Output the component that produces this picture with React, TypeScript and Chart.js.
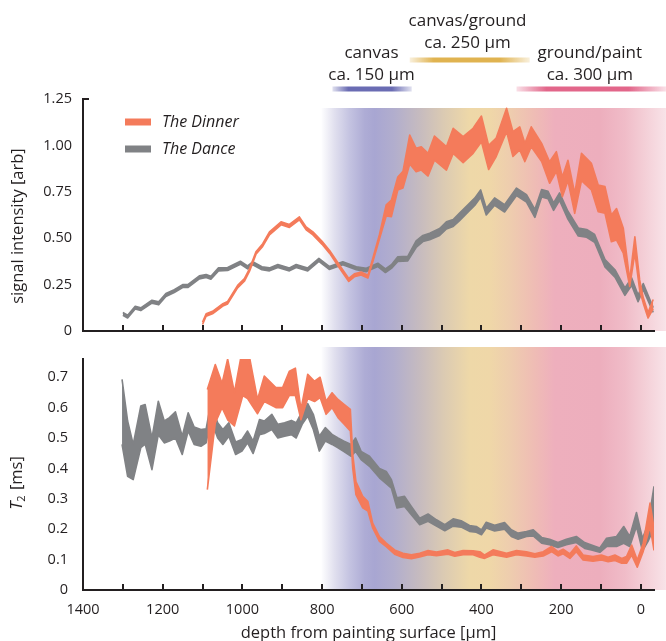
import React, { useEffect, useRef } from 'react';
import { Chart, registerables } from 'chart.js';

Chart.register(...registerables);

const FONT = '"Open Sans", "Noto Sans", sans-serif';
const INK = '#231f20';
const ORANGE = '#f47b5b';
const GRAY = '#808285';

// ---------- signal intensity: The Dinner ----------
const SIG_DINNER_DEPTH = [1100, 1091, 1075, 1049, 1037, 1012, 995, 982, 966, 949, 932, 903, 882, 857, 840, 823, 800, 781, 756, 733, 719, 702, 685, 673, 656, 639, 626, 610, 597, 580, 564, 551, 534, 518, 488, 471, 446, 421, 400, 382, 363, 337, 321, 304, 291, 275, 249, 229, 212, 197, 183, 166, 149, 124, 107, 90, 74, 61, 44, 28, 15, 3, -6, -18, -31];
const SIG_DINNER_LO = [0.035, 0.08, 0.093, 0.134, 0.146, 0.232, 0.268, 0.322, 0.413, 0.456, 0.518, 0.572, 0.558, 0.599, 0.545, 0.518, 0.467, 0.418, 0.338, 0.267, 0.292, 0.302, 0.285, 0.37, 0.495, 0.62, 0.616, 0.76, 0.77, 0.9, 0.858, 0.867, 0.835, 0.92, 0.867, 0.957, 0.907, 0.957, 1.02, 0.87, 0.94, 1.074, 0.94, 0.975, 0.913, 0.993, 0.913, 0.796, 0.86, 0.724, 0.81, 0.634, 0.81, 0.76, 0.643, 0.634, 0.481, 0.49, 0.419, 0.24, 0.42, 0.22, 0.15, 0.07, 0.12];
const SIG_DINNER_HI = [0.048, 0.093, 0.106, 0.147, 0.159, 0.246, 0.282, 0.336, 0.427, 0.47, 0.534, 0.588, 0.574, 0.615, 0.561, 0.534, 0.483, 0.434, 0.354, 0.283, 0.308, 0.318, 0.301, 0.39, 0.52, 0.68, 0.705, 0.83, 0.86, 1.056, 0.984, 0.993, 0.957, 1.05, 0.993, 1.092, 1.047, 1.092, 1.158, 1.0, 1.04, 1.2, 1.074, 1.1, 1.011, 1.1, 1.011, 0.912, 0.966, 0.83, 0.92, 0.742, 0.957, 0.903, 0.787, 0.778, 0.625, 0.66, 0.553, 0.275, 0.508, 0.275, 0.18, 0.1, 0.17];

// ---------- signal intensity: The Dance ----------
const SIG_DANCE_DEPTH = [1300, 1288, 1269, 1255, 1227, 1210, 1192, 1171, 1150, 1137, 1108, 1091, 1079, 1060, 1037, 1005, 987, 974, 951, 932, 911, 882, 865, 836, 808, 782, 748, 714, 689, 660, 641, 626, 610, 585, 564, 547, 530, 505, 488, 471, 455, 434, 417, 402, 388, 367, 342, 312, 287, 266, 249, 233, 219, 204, 183, 157, 136, 116, 90, 65, 40, 23, 7, -6, -31];
const SIG_DANCE_LO = [0.085, 0.07, 0.118, 0.11, 0.15, 0.141, 0.186, 0.207, 0.234, 0.234, 0.281, 0.288, 0.279, 0.324, 0.326, 0.36, 0.335, 0.357, 0.33, 0.324, 0.342, 0.324, 0.342, 0.324, 0.375, 0.332, 0.357, 0.33, 0.32, 0.347, 0.315, 0.337, 0.375, 0.378, 0.45, 0.482, 0.492, 0.515, 0.55, 0.563, 0.595, 0.64, 0.676, 0.72, 0.625, 0.677, 0.641, 0.73, 0.695, 0.612, 0.722, 0.713, 0.65, 0.704, 0.603, 0.512, 0.505, 0.478, 0.345, 0.29, 0.192, 0.246, 0.158, 0.222, 0.1];
const SIG_DANCE_HI = [0.1, 0.085, 0.133, 0.125, 0.166, 0.157, 0.202, 0.223, 0.25, 0.25, 0.297, 0.304, 0.295, 0.34, 0.342, 0.376, 0.351, 0.373, 0.346, 0.34, 0.358, 0.34, 0.358, 0.34, 0.391, 0.348, 0.373, 0.346, 0.338, 0.365, 0.335, 0.357, 0.4, 0.402, 0.485, 0.515, 0.527, 0.552, 0.588, 0.601, 0.635, 0.68, 0.716, 0.76, 0.662, 0.717, 0.681, 0.77, 0.735, 0.655, 0.762, 0.753, 0.69, 0.744, 0.645, 0.555, 0.547, 0.52, 0.385, 0.33, 0.232, 0.286, 0.194, 0.256, 0.126];

// ---------- T2: The Dinner ----------
const T2_DINNER_DEPTH = [1088, 1068, 1051, 1037, 1020, 999, 987, 962, 945, 916, 899, 882, 867, 853, 836, 819, 805, 790, 775, 760, 744, 729, 723, 715, 698, 685, 673, 656, 639, 618, 597, 576, 555, 534, 513, 484, 467, 446, 421, 404, 392, 371, 337, 312, 287, 266, 245, 224, 208, 195, 178, 162, 145, 120, 99, 82, 65, 48, 36, 23, 9, -6, -23, -33];
const T2_DINNER_LO = [0.33, 0.55, 0.6, 0.56, 0.54, 0.64, 0.63, 0.58, 0.62, 0.6, 0.6, 0.64, 0.64, 0.56, 0.63, 0.62, 0.633, 0.578, 0.6, 0.567, 0.545, 0.523, 0.4, 0.314, 0.27, 0.26, 0.204, 0.16, 0.143, 0.118, 0.107, 0.103, 0.109, 0.116, 0.113, 0.118, 0.111, 0.116, 0.116, 0.108, 0.104, 0.116, 0.108, 0.116, 0.112, 0.108, 0.112, 0.126, 0.112, 0.119, 0.104, 0.126, 0.099, 0.095, 0.099, 0.093, 0.097, 0.088, 0.088, 0.115, 0.075, 0.127, 0.209, 0.13];
const T2_DINNER_HI = [0.66, 0.742, 0.68, 0.76, 0.65, 0.8, 0.8, 0.627, 0.704, 0.666, 0.666, 0.72, 0.73, 0.594, 0.71, 0.687, 0.7, 0.621, 0.649, 0.627, 0.61, 0.594, 0.446, 0.357, 0.308, 0.291, 0.22, 0.176, 0.154, 0.132, 0.121, 0.116, 0.121, 0.13, 0.125, 0.132, 0.123, 0.13, 0.129, 0.126, 0.115, 0.132, 0.121, 0.13, 0.126, 0.119, 0.126, 0.143, 0.126, 0.134, 0.119, 0.145, 0.115, 0.11, 0.115, 0.108, 0.115, 0.104, 0.11, 0.148, 0.099, 0.154, 0.286, 0.205];

// ---------- T2: The Dance ----------
const T2_DANCE_DEPTH = [1302, 1288, 1274, 1255, 1244, 1227, 1211, 1196, 1183, 1168, 1151, 1136, 1121, 1104, 1091, 1079, 1062, 1049, 1034, 1017, 1001, 987, 973, 957, 945, 926, 911, 894, 877, 865, 850, 836, 822, 807, 792, 775, 760, 746, 727, 716, 702, 681, 656, 639, 626, 612, 593, 576, 555, 534, 513, 492, 471, 451, 430, 413, 400, 388, 367, 342, 325, 308, 287, 270, 249, 229, 208, 187, 162, 141, 124, 103, 86, 61, 43, 28, 11, -4, -18, -33];
const T2_DANCE_LO = [0.479, 0.374, 0.363, 0.468, 0.48, 0.396, 0.511, 0.484, 0.49, 0.5, 0.446, 0.523, 0.479, 0.473, 0.484, 0.561, 0.5, 0.479, 0.506, 0.446, 0.457, 0.484, 0.449, 0.511, 0.515, 0.528, 0.5, 0.506, 0.511, 0.5, 0.545, 0.572, 0.528, 0.457, 0.49, 0.479, 0.468, 0.456, 0.44, 0.456, 0.429, 0.407, 0.369, 0.35, 0.335, 0.27, 0.275, 0.248, 0.215, 0.226, 0.21, 0.195, 0.21, 0.207, 0.193, 0.19, 0.182, 0.204, 0.194, 0.2, 0.176, 0.167, 0.176, 0.178, 0.154, 0.149, 0.14, 0.149, 0.156, 0.137, 0.132, 0.124, 0.143, 0.143, 0.154, 0.143, 0.209, 0.129, 0.16, 0.205];
const T2_DANCE_HI = [0.693, 0.556, 0.479, 0.605, 0.61, 0.5, 0.621, 0.556, 0.567, 0.586, 0.506, 0.583, 0.536, 0.528, 0.53, 0.616, 0.55, 0.528, 0.55, 0.487, 0.495, 0.523, 0.49, 0.561, 0.556, 0.578, 0.545, 0.55, 0.558, 0.55, 0.588, 0.613, 0.578, 0.506, 0.534, 0.512, 0.5, 0.49, 0.479, 0.5, 0.456, 0.44, 0.4, 0.39, 0.363, 0.303, 0.308, 0.275, 0.236, 0.25, 0.231, 0.215, 0.234, 0.228, 0.212, 0.209, 0.198, 0.223, 0.213, 0.222, 0.198, 0.187, 0.192, 0.198, 0.173, 0.167, 0.156, 0.167, 0.176, 0.156, 0.148, 0.138, 0.17, 0.176, 0.209, 0.176, 0.255, 0.17, 0.215, 0.341];

// ---------- axes ----------
const X_MIN = -33;
const X_MAX = 1400;
const X_MINOR_TICKS = [1300, 1200, 1100, 1000, 900, 800, 700, 600, 500, 400, 300, 200, 100, 0];
const X_LABEL_TICKS = [1400, 1200, 1000, 800, 600, 400, 200, 0];
const SIG_TICKS = [0, 0.25, 0.5, 0.75, 1.0, 1.25];
const T2_TICKS = [0, 0.1, 0.2, 0.3, 0.4, 0.5, 0.6, 0.7];
const T2_MAX = 0.76;

// ---------- layer annotations ----------
const LAYER_NAMES = ['canvas', 'canvas/ground', 'ground/paint'];
const LAYER_SIZES = ['ca. 150 µm', 'ca. 250 µm', 'ca. 300 µm'];
const LAYER_CENTER = [676, 435, 128];
const LAYER_BAR_FROM = [774, 580, 312];
const LAYER_BAR_TO = [575, 279, -63];
const LAYER_BAR_COLOR = ['#6a6cb3', '#e0b350', '#e2668a'];
const LAYER_ROW = [1, 0, 1];

const LAYER_BG_DEPTH = [801, 768, 731, 693, 668, 618, 555, 492, 430, 379, 329, 266, 216, 103, 40, -10, -63];
const LAYER_BG_COLOR = ['#fdfdfe', '#e0dfee', '#c4c3e1', '#aeacd5', '#a8a6d2', '#b2aecd', '#c6bbbf', '#dccbb2', '#eed8a8', '#efd7a8', '#eecdae', '#efbcb5', '#eeafbd', '#edaebd', '#f0bcc8', '#f4cfd7', '#f8e3e8'];

const LEGEND_NAMES = ['The Dinner', 'The Dance'];
const LEGEND_COLORS = [ORANGE, GRAY];

function hexToRgba(hex: string, a: number) {
  const n = parseInt(hex.slice(1), 16);
  return `rgba(${(n >> 16) & 255},${(n >> 8) & 255},${n & 255},${a})`;
}

function band(depth: number[], lo: number[], hi: number[], color: string, order: number) {
  return [
    {
      data: depth.map((d, i) => ({ x: d, y: lo[i] })),
      borderColor: color,
      backgroundColor: color,
      borderWidth: 1.6,
      pointRadius: 0,
      tension: 0,
      fill: false,
      order,
      borderJoinStyle: 'round' as const,
    },
    {
      data: depth.map((d, i) => ({ x: d, y: hi[i] })),
      borderColor: color,
      backgroundColor: color,
      borderWidth: 1.6,
      pointRadius: 0,
      tension: 0,
      fill: '-1',
      order,
      borderJoinStyle: 'round' as const,
    },
  ];
}

function drawBackground(chart: any, topY: number) {
  const { ctx, chartArea, scales } = chart;
  const xs = scales.x;
  const x0 = xs.getPixelForValue(LAYER_BG_DEPTH[0]);
  const x1 = xs.getPixelForValue(LAYER_BG_DEPTH[LAYER_BG_DEPTH.length - 1]);
  const g = ctx.createLinearGradient(x0, 0, x1, 0);
  LAYER_BG_DEPTH.forEach((d, i) => {
    g.addColorStop(Math.min(1, Math.max(0, (xs.getPixelForValue(d) - x0) / (x1 - x0))), LAYER_BG_COLOR[i]);
  });
  ctx.save();
  ctx.fillStyle = g;
  ctx.fillRect(x0, topY, x1 - x0, chartArea.bottom - topY);
  ctx.restore();
}

function drawXTicks(chart: any) {
  const { ctx, chartArea, scales } = chart;
  ctx.save();
  ctx.strokeStyle = INK;
  ctx.lineWidth = 2;
  X_MINOR_TICKS.forEach((v) => {
    const px = Math.round(scales.x.getPixelForValue(v));
    ctx.beginPath();
    ctx.moveTo(px, chartArea.bottom - 6);
    ctx.lineTo(px, chartArea.bottom);
    ctx.stroke();
  });
  ctx.restore();
}

const topPlugin = {
  id: 'topDecor',
  beforeDraw(chart: any) {
    drawBackground(chart, 108);
  },
  afterDraw(chart: any) {
    const { ctx, chartArea, scales } = chart;
    drawXTicks(chart);
    ctx.save();
    // cap tick at top of y axis
    ctx.strokeStyle = INK;
    ctx.lineWidth = 2;
    ctx.beginPath();
    ctx.moveTo(chartArea.left - 1, chartArea.top);
    ctx.lineTo(chartArea.left + 6, chartArea.top);
    ctx.stroke();

    // y title
    ctx.fillStyle = INK;
    ctx.font = `16.5px ${FONT}`;
    ctx.textAlign = 'center';
    ctx.textBaseline = 'middle';
    ctx.save();
    ctx.translate(18, 226);
    ctx.rotate(-Math.PI / 2);
    ctx.fillText('signal intensity [arb]', 0, 0);
    ctx.restore();

    // legend
    LEGEND_NAMES.forEach((name, i) => {
      const y = chartArea.top + 23 + i * 27;
      ctx.strokeStyle = LEGEND_COLORS[i];
      ctx.lineWidth = 7;
      ctx.beginPath();
      ctx.moveTo(chartArea.left + 42, y);
      ctx.lineTo(chartArea.left + 68, y);
      ctx.stroke();
      ctx.fillStyle = INK;
      ctx.font = `italic 16px ${FONT}`;
      ctx.textAlign = 'left';
      ctx.textBaseline = 'middle';
      ctx.fillText(name, chartArea.left + 79, y);
    });

    // layer annotations
    const xs = scales.x;
    LAYER_NAMES.forEach((name, i) => {
      const row = LAYER_ROW[i];
      const nameY = row === 0 ? 21 : 53;
      const sizeY = nameY + 22;
      const barY = row === 0 ? 60 : 89;
      const cx = xs.getPixelForValue(LAYER_CENTER[i]);
      ctx.fillStyle = INK;
      ctx.font = `17px ${FONT}`;
      ctx.textAlign = 'center';
      ctx.textBaseline = 'middle';
      ctx.fillText(name, cx, nameY);
      ctx.fillText(LAYER_SIZES[i], cx, sizeY);
      const bx0 = xs.getPixelForValue(LAYER_BAR_FROM[i]);
      const bx1 = xs.getPixelForValue(LAYER_BAR_TO[i]);
      const g = ctx.createLinearGradient(bx0, 0, bx1, 0);
      const c = LAYER_BAR_COLOR[i];
      g.addColorStop(0, hexToRgba(c, 0.2));
      g.addColorStop(0.2, hexToRgba(c, 1));
      g.addColorStop(0.75, hexToRgba(c, 1));
      g.addColorStop(1, hexToRgba(c, 0.2));
      ctx.fillStyle = g;
      ctx.fillRect(bx0, barY - 2.5, bx1 - bx0, 5);
    });
    ctx.restore();
  },
};

const bottomPlugin = {
  id: 'bottomDecor',
  beforeDraw(chart: any) {
    drawBackground(chart, 7);
  },
  afterDraw(chart: any) {
    const { ctx, chartArea } = chart;
    drawXTicks(chart);
    ctx.save();
    ctx.fillStyle = INK;
    ctx.textBaseline = 'middle';
    // x title
    ctx.font = `16.5px ${FONT}`;
    ctx.textAlign = 'center';
    ctx.fillText('depth from painting surface [µm]', (chartArea.left + chartArea.right) / 2, 293);
    // y title: T2 [ms]
    ctx.save();
    ctx.translate(17, 143);
    ctx.rotate(-Math.PI / 2);
    const fT = `italic 16.5px ${FONT}`;
    const fSub = `11px ${FONT}`;
    const fN = `16.5px ${FONT}`;
    ctx.font = fT;
    const wT = ctx.measureText('T').width;
    ctx.font = fSub;
    const wS = ctx.measureText('2').width;
    ctx.font = fN;
    const wR = ctx.measureText(' [ms]').width;
    let x = -(wT + wS + 1 + wR) / 2;
    ctx.textAlign = 'left';
    ctx.font = fT;
    ctx.fillText('T', x, 0);
    x += wT;
    ctx.font = fSub;
    ctx.fillText('2', x, 5);
    x += wS + 1;
    ctx.font = fN;
    ctx.fillText(' [ms]', x, 0);
    ctx.restore();
    ctx.restore();
  },
};

function xScale(showLabels: boolean, height: number) {
  return {
    type: 'linear' as const,
    reverse: true,
    min: X_MIN,
    max: X_MAX,
    afterBuildTicks: (scale: any) => {
      scale.ticks = X_LABEL_TICKS.map((v) => ({ value: v }));
    },
    afterFit: (scale: any) => {
      scale.height = height;
    },
    grid: { display: false, drawTicks: false },
    border: { display: true, color: INK, width: 2 },
    ticks: {
      display: showLabels,
      autoSkip: false,
      maxRotation: 0,
      padding: 11,
      color: INK,
      font: { family: FONT, size: 14.5 },
      callback: (v: any) => String(v),
    },
  };
}

function yScale(min: number, max: number, ticks: number[], digits: number, padding: number) {
  return {
    type: 'linear' as const,
    min,
    max,
    afterBuildTicks: (scale: any) => {
      scale.ticks = ticks.map((v) => ({ value: v }));
    },
    afterFit: (scale: any) => {
      scale.width = 83;
      scale.paddingTop = 0;
      scale.paddingBottom = 0;
    },
    grid: { display: false, drawTicks: false },
    border: { display: true, color: INK, width: 2 },
    ticks: {
      padding,
      color: INK,
      font: { family: FONT, size: 14.5 },
      callback: (v: any) => (Number(v) === 0 ? '0' : Number(v).toFixed(digits)),
    },
  };
}

export default function App() {
  const topRef = useRef<HTMLCanvasElement>(null);
  const botRef = useRef<HTMLCanvasElement>(null);

  useEffect(() => {
    document.body.style.margin = '0';
    const common = {
      responsive: false,
      animation: false as const,
      devicePixelRatio: 1,
      events: [] as any[],
      plugins: { legend: { display: false }, tooltip: { enabled: false } },
    };
    const top = new Chart(topRef.current as HTMLCanvasElement, {
      type: 'line',
      data: {
        datasets: [
          ...band(SIG_DINNER_DEPTH, SIG_DINNER_LO, SIG_DINNER_HI, ORANGE, 0),
          ...band(SIG_DANCE_DEPTH, SIG_DANCE_LO, SIG_DANCE_HI, GRAY, 1),
        ] as any,
      },
      options: {
        ...common,
        layout: { padding: { left: 0, right: 12, top: 99, bottom: 0 } },
        scales: {
          x: xScale(false, 9),
          y: yScale(0, 1.25, SIG_TICKS, 2, 11),
        },
      } as any,
      plugins: [topPlugin],
    });
    const bottom = new Chart(botRef.current as HTMLCanvasElement, {
      type: 'line',
      data: {
        datasets: [
          ...band(T2_DINNER_DEPTH, T2_DINNER_LO, T2_DINNER_HI, ORANGE, 0),
          ...band(T2_DANCE_DEPTH, T2_DANCE_LO, T2_DANCE_HI, GRAY, 1),
        ] as any,
      },
      options: {
        ...common,
        layout: { padding: { left: 0, right: 12, top: 19, bottom: 0 } },
        scales: {
          x: xScale(true, 51),
          y: yScale(0, T2_MAX, T2_TICKS, 1, 15),
        },
      } as any,
      plugins: [bottomPlugin],
    });
    return () => {
      top.destroy();
      bottom.destroy();
    };
  }, []);

  return (
    <div style={{ position: 'relative', width: 666, height: 641, background: '#ffffff' }}>
      <canvas
        ref={topRef}
        width={666}
        height={340}
        style={{ position: 'absolute', left: 0, top: 0, width: 666, height: 340, display: 'block' }}
      />
      <canvas
        ref={botRef}
        width={666}
        height={301}
        style={{ position: 'absolute', left: 0, top: 340, width: 666, height: 301, display: 'block' }}
      />
    </div>
  );
}
